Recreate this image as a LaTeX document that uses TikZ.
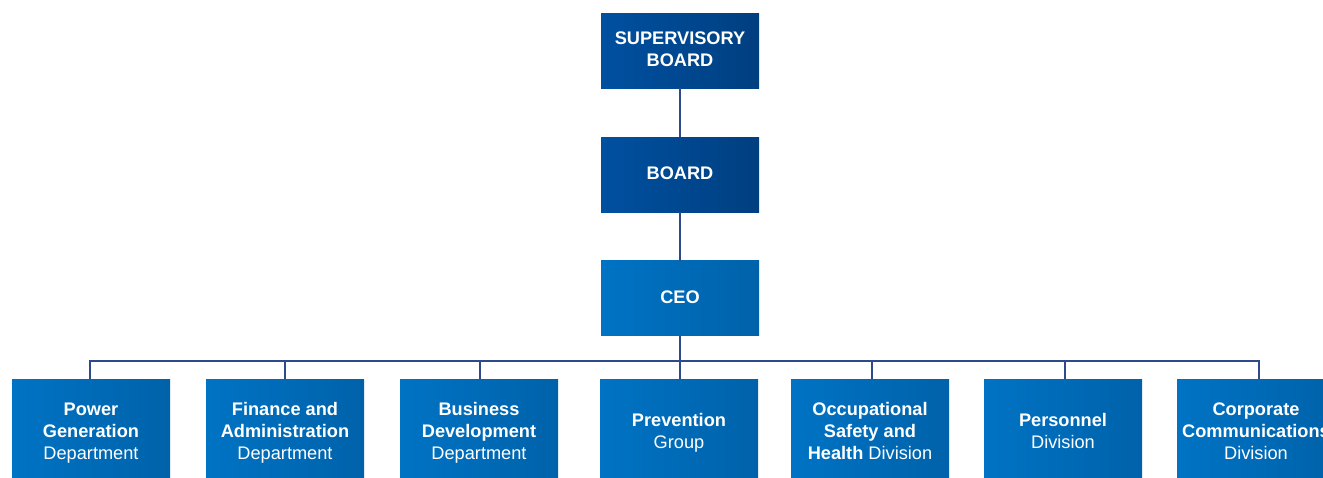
\documentclass[tikz,border=0pt]{standalone}
\usepackage{fontspec}
\setmainfont{Liberation Sans}
\newcommand\boxstrut{\rule[-4pt]{0pt}{18pt}}
\begin{document}
\begin{tikzpicture}[x=1pt,y=-1pt,
  base/.style={minimum width=158pt,inner sep=0pt,outer sep=0pt,text=white,align=center,
    font=\fontsize{18.2}{22}\selectfont},
  topbox/.style={base,minimum height=75pt,left color=dkA,right color=dkB},
  ceobox/.style={base,minimum height=75pt,left color=ltA,right color=ltB},
  unitbox/.style={base,minimum height=106pt,left color=ltA,right color=ltB},
  link/.style={draw=lineC,line width=1.4pt}]
\definecolor{dkA}{HTML}{0050A0}
\definecolor{dkB}{HTML}{003F80}
\definecolor{ltA}{HTML}{0073C4}
\definecolor{ltB}{HTML}{0062AA}
\definecolor{lineC}{HTML}{2E4A8A}
\useasboundingbox (0,0) rectangle (1323,477);
\clip (0,0) rectangle (1323,477);
\node[topbox] (sb) at (680,50.5) {\boxstrut\textbf{SUPERVISORY}\\\textbf{BOARD}\boxstrut};
\node[topbox] (bd) at (680,174.5) {\boxstrut\textbf{BOARD}\boxstrut};
\node[ceobox] (ceo) at (680,298) {\boxstrut\textbf{CEO}\boxstrut};
\node[unitbox] (u1) at (91,432) {\boxstrut\textbf{Power}\\\textbf{Generation}\\Department\boxstrut};
\node[unitbox] (u2) at (285,432) {\boxstrut\textbf{Finance and}\\\textbf{Administration}\\Department\boxstrut};
\node[unitbox] (u3) at (479,432) {\boxstrut\textbf{Business}\\\textbf{Development}\\Department\boxstrut};
\node[unitbox] (u4) at (679,432) {\boxstrut\textbf{Prevention}\\Group\boxstrut};
\node[unitbox] (u5) at (870,432) {\boxstrut\textbf{Occupational}\\\textbf{Safety and}\\\textbf{Health} Division\boxstrut};
\node[unitbox] (u6) at (1063,432) {\boxstrut\textbf{Personnel}\\Division\boxstrut};
\node[unitbox] (u7) at (1256,432) {\boxstrut\textbf{Corporate}\\\textbf{Communications}\\Division\boxstrut};
\coordinate (bus) at (680,361);
\draw[link] (sb.south) -- (bd.north);
\draw[link] (bd.south) -- (ceo.north);
\draw[link] (ceo.south) -- (bus);
\draw[link] (u1.north -| 90,0) |- (bus) -| (u7.north -| 1259,0);
\foreach \n/\x in {u2/285,u3/480,u4/680,u5/872,u6/1065}
  \draw[link] (\n.north -| \x,0) -- (\x,361);
\end{tikzpicture}
\end{document}
